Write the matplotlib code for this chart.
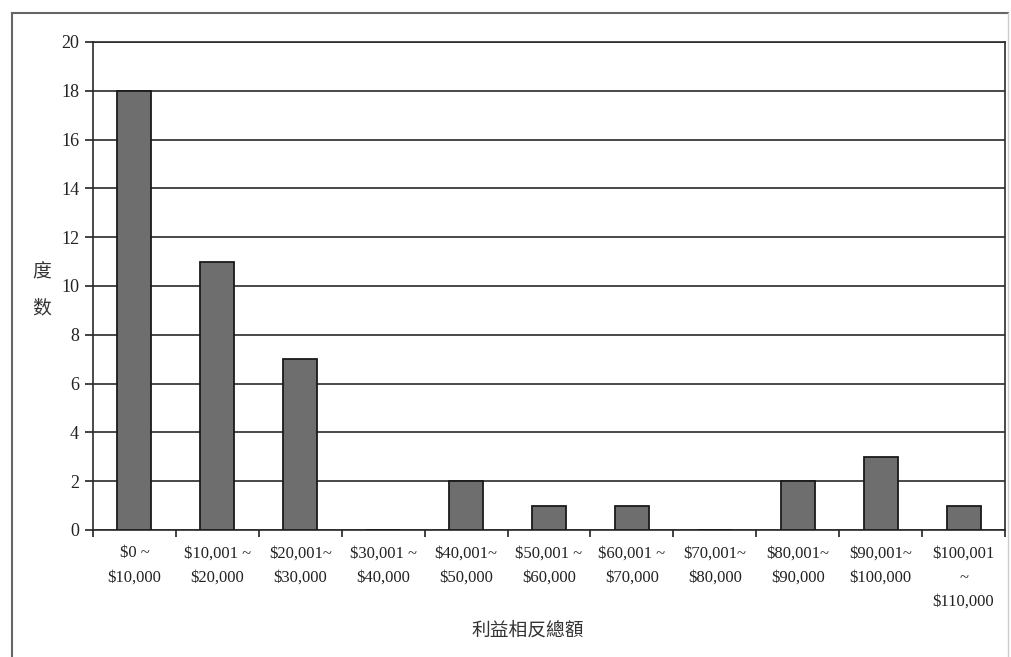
import matplotlib

matplotlib.use("Agg")

import matplotlib.pyplot as plt
import numpy as np
from matplotlib.lines import Line2D

categories = [
    "$0 ~\n$10,000",
    "$10,001 ~\n$20,000",
    "$20,001~\n$30,000",
    "$30,001 ~\n$40,000",
    "$40,001~\n$50,000",
    "$50,001 ~\n$60,000",
    "$60,001 ~\n$70,000",
    "$70,001~\n$80,000",
    "$80,001~\n$90,000",
    "$90,001~\n$100,000",
    "$100,001\n~\n$110,000",
]
counts = [18, 11, 7, 0, 2, 1, 1, 0, 2, 3, 1]
y_ticks = [0, 2, 4, 6, 8, 10, 12, 14, 16, 18, 20]

plt.rcParams["font.family"] = ["Liberation Serif", "DejaVu Serif"]
cjk = ["Noto Sans CJK TC", "DejaVu Sans"]

fig = plt.figure(figsize=(10.11, 6.57), dpi=100)
ax = fig.add_axes([93 / 1011, 1 - 530 / 657, 912 / 1011, 488 / 657])

x = np.arange(len(categories))
ax.bar(x, counts, width=0.41, color="#6e6e6e", edgecolor="#1a1a1a",
       linewidth=1.3, zorder=3)

ax.set_xlim(-0.5, len(categories) - 0.5)
ax.set_ylim(0, 20)
ax.set_yticks(y_ticks)
ax.yaxis.grid(True, color="#2a2a2a", linewidth=1.2, zorder=1)
ax.set_axisbelow(True)

ax.set_xticks(x)
ax.set_xticklabels(categories, fontsize=12, linespacing=1.7, color="#222222")
ax.set_xticks(np.arange(-0.5, len(categories), 1.0), minor=True)
ax.tick_params(axis="x", which="major", length=0, pad=11)
ax.tick_params(axis="x", which="minor", length=5, width=1.2, direction="out",
               color="#222222")
ax.tick_params(axis="y", length=6, width=1.2, color="#222222", labelsize=13,
               labelcolor="#222222", pad=4)

for side in ["left", "right", "top", "bottom"]:
    ax.spines[side].set_color("#2a2a2a")
    ax.spines[side].set_linewidth(1.2)

fig.text(42 / 1011, 1 - 290 / 657, "度\n数", family=cjk, fontsize=13.5,
         ha="center", va="center", color="#333333", linespacing=1.9)
fig.text(528 / 1011, 1 - 630 / 657, "利益相反總額", family=cjk, fontsize=13.5,
         ha="center", va="center", color="#333333")

# outer chart frame
fig.add_artist(Line2D([12 / 1011, 12 / 1011], [0, 1 - 13 / 657],
                      transform=fig.transFigure, color="#666666", linewidth=1.5))
fig.add_artist(Line2D([12 / 1011, 1008 / 1011], [1 - 13 / 657, 1 - 13 / 657],
                      transform=fig.transFigure, color="#666666", linewidth=1.5))
fig.add_artist(Line2D([1008 / 1011, 1008 / 1011], [0, 1 - 13 / 657],
                      transform=fig.transFigure, color="#cccccc", linewidth=1.0))

fig.savefig("out.png", dpi=100, facecolor="white")
plt.close(fig)
